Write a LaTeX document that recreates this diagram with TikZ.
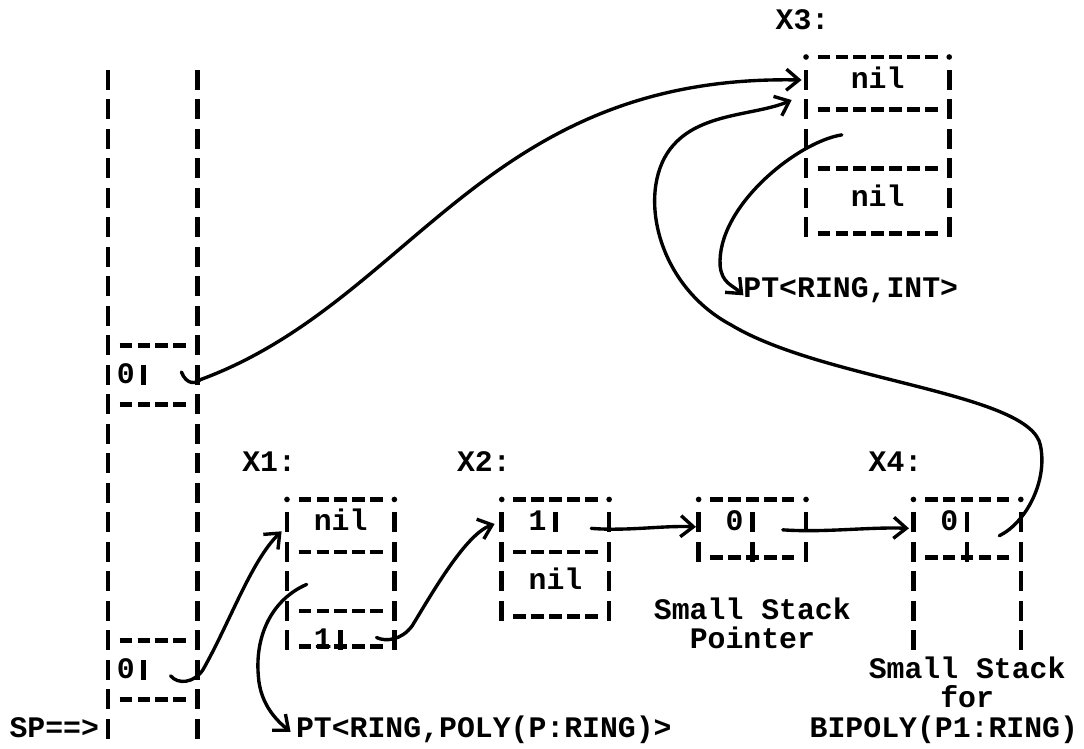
\documentclass[tikz,border=0pt]{standalone}
\usepackage{fontspec}
\usepackage{tikz}
\usetikzlibrary{arrows.meta}
\newfontfamily\prtfont{Liberation Mono}
\tikzset{
  prt/.style={font=\prtfont\bfseries\fontsize{21.2}{25}\selectfont,inner sep=0pt,anchor=base,yshift=-6pt},
  vbar/.style={line width=3.3pt,dash pattern=on 14.2pt off 6.78pt},
  hbar/.style={line width=3.4pt,dash pattern=on 8.9pt off 3.83pt},
  ptr/.style={line width=2.4pt,line cap=round,-{Straight Barb[length=9pt,width=15pt]}},
}

\begin{document}
\begin{tikzpicture}[x=4.475mm,y=-7.375mm]
    \useasboundingbox (-1.034,-0.712) rectangle (59.53,24.68);
    % stack
    \draw[vbar] (5,1.661)--(5,24.339);
    \draw[vbar] (10,1.661)--(10,24.339);
    \draw[hbar] (5.651,11)--(9.349,11);
    \draw[hbar] (5.651,13)--(9.349,13);
    \draw[hbar] (5.651,21)--(9.349,21);
    \draw[hbar] (5.651,23)--(9.349,23);
    \draw[vbar] (7,11.661)--(7,12.339);
    \draw[vbar] (7,21.661)--(7,22.339);
    \node[prt] (stkA) at (6,12) {0};
    \node[prt] (stkB) at (6,22) {0};
    \node[prt] (sp) at (2,24) {SP==>};
    % X3
    \node[prt] (x3) at (43.8,0) {X3:};
    \fill (44,1.22) circle (2pt) (52,1.22) circle (2pt);
    \draw[hbar] (44.651,1.22)--(51.349,1.22);
    \draw[vbar] (44,1.661)--(44,7.339);
    \draw[vbar] (52,1.661)--(52,7.339);
    \draw[hbar] (44.651,3)--(51.349,3);
    \draw[hbar] (44.651,5)--(51.349,5);
    \draw[hbar] (44.651,7.2)--(51.349,7.2);
    \node[prt] (x3car) at (48,2) {nil};
    \node[prt] (x3cdr) at (48,6) {nil};
    \node[prt] (ptint) at (46.5,9.1) {PT<RING,INT>};
    % X1
    \node[prt] (x1) at (14,15) {X1:};
    \fill (15,16.22) circle (2pt) (21,16.22) circle (2pt);
    \draw[hbar] (15.651,16.22)--(20.349,16.22);
    \draw[vbar] (15,16.661)--(15,21.339);
    \draw[vbar] (21,16.661)--(21,21.339);
    \draw[hbar] (15.651,18)--(20.349,18);
    \draw[hbar] (15.651,20)--(20.349,20);
    \draw[hbar] (15.651,21.2)--(20.349,21.2);
    \draw[vbar] (18,20.661)--(18,21.339);
    \node[prt] (x1car) at (18,17) {nil};
    \node[prt] (x1tag) at (17,21) {1};
    \node[prt] (ptpoly) at (26,24) {PT<RING,POLY(P:RING)>};
    % X2
    \node[prt] (x2) at (26,15) {X2:};
    \fill (27,16.22) circle (2pt) (33,16.22) circle (2pt);
    \draw[hbar] (27.651,16.22)--(32.349,16.22);
    \draw[vbar] (27,16.661)--(27,20.339);
    \draw[vbar] (33,16.661)--(33,20.339);
    \draw[vbar] (30,16.661)--(30,17.339);
    \draw[hbar] (27.651,18)--(32.349,18);
    \draw[hbar] (27.651,20.2)--(32.349,20.2);
    \node[prt] (x2tag) at (29,17) {1};
    \node[prt] (x2cdr) at (30,19) {nil};
    % small stack pointer
    \fill (38,16.22) circle (2pt) (44,16.22) circle (2pt);
    \draw[hbar] (38.651,16.22)--(43.349,16.22);
    \draw[vbar] (38,16.661)--(38,18.339);
    \draw[vbar] (44,16.661)--(44,18.339);
    \draw[vbar] (41,16.661)--(41,18.339);
    \draw[hbar] (38.651,18.2)--(43.349,18.2);
    \node[prt] (ssptag) at (40,17) {0};
    \node[prt] (sspA) at (41,20) {Small Stack};
    \node[prt] (sspB) at (41,21) {Pointer};
    % X4
    \node[prt] (x4) at (49,15) {X4:};
    \fill (50,16.22) circle (2pt) (56,16.22) circle (2pt);
    \draw[hbar] (50.651,16.22)--(55.349,16.22);
    \draw[vbar] (50,16.661)--(50,21.339);
    \draw[vbar] (56,16.661)--(56,21.339);
    \draw[vbar] (53,16.661)--(53,18.339);
    \draw[hbar] (50.651,18.2)--(55.349,18.2);
    \node[prt] (x4tag) at (52,17) {0};
    \node[prt] (x4A) at (53,22) {Small Stack};
    \node[prt] (x4B) at (53,23) {for};
    \node[prt] (x4C) at (51.7,24) {BIPOLY(P1:RING)};
    % pointers
    \coordinate (stkAout) at (9.1,11.9);
    \coordinate (x3in1) at (43.75,2.0);
    \coordinate (x3in2) at (43.2,2.68);
    \coordinate (x3out) at (46.0,3.86);
    \coordinate (ptintin) at (40.5,9.3);
    \coordinate (stkBout) at (8.5,22.2);
    \coordinate (x1in) at (14.7,17.3);
    \coordinate (x1out) at (16.1,19.1);
    \coordinate (ptpolyin) at (15.2,24.1);
    \coordinate (x1next) at (20.0,20.9);
    \coordinate (x2in) at (26.6,17.05);
    \coordinate (x2next) at (32.0,17.2);
    \coordinate (sspin) at (37.85,17.15);
    \coordinate (sspnext) at (42.7,17.25);
    \coordinate (x4in) at (49.75,17.2);
    \coordinate (x4next) at (54.8,17.45);
    \draw[ptr] (stkAout) .. controls (9.4,12.35) and (9.9,12.3) .. (10.2,12.15) .. controls (22,9.5) and (26,1.8) .. (x3in1);
    \draw[ptr] (x4next) .. controls (56.3,17.0) and (57.5,15.6) .. (57.1,14.4) .. controls (56.6,12.6) and (45,12.2) .. (39.8,10.3) .. controls (35.5,8.9) and (34.5,5.6) .. (36.6,4.2) .. controls (38.2,3.1) and (41.2,3.2) .. (x3in2);
    \draw[ptr] (x3out) .. controls (43.5,4.1) and (39.0,6.3) .. (39.2,8.3) .. controls (39.3,8.9) and (39.9,8.95) .. (ptintin);
    \draw[ptr] (stkBout) .. controls (8.9,22.5) and (9.8,22.45) .. (10.3,22.0) .. controls (11.8,20.4) and (13.0,18.3) .. (x1in);
    \draw[ptr] (x1out) .. controls (14.2,19.6) and (13.2,20.8) .. (13.4,22.2) .. controls (13.5,23.2) and (14.5,23.75) .. (ptpolyin);
    \draw[ptr] (x1next) .. controls (20.5,21.05) and (21.4,21.0) .. (22.0,20.5) .. controls (23.2,19.3) and (25.0,17.4) .. (x2in);
    \draw[ptr] (x2next) .. controls (34,17.3) and (36,17.1) .. (sspin);
    \draw[ptr] (sspnext) .. controls (45,17.35) and (47.5,17.15) .. (x4in);
\end{tikzpicture}
\end{document}
